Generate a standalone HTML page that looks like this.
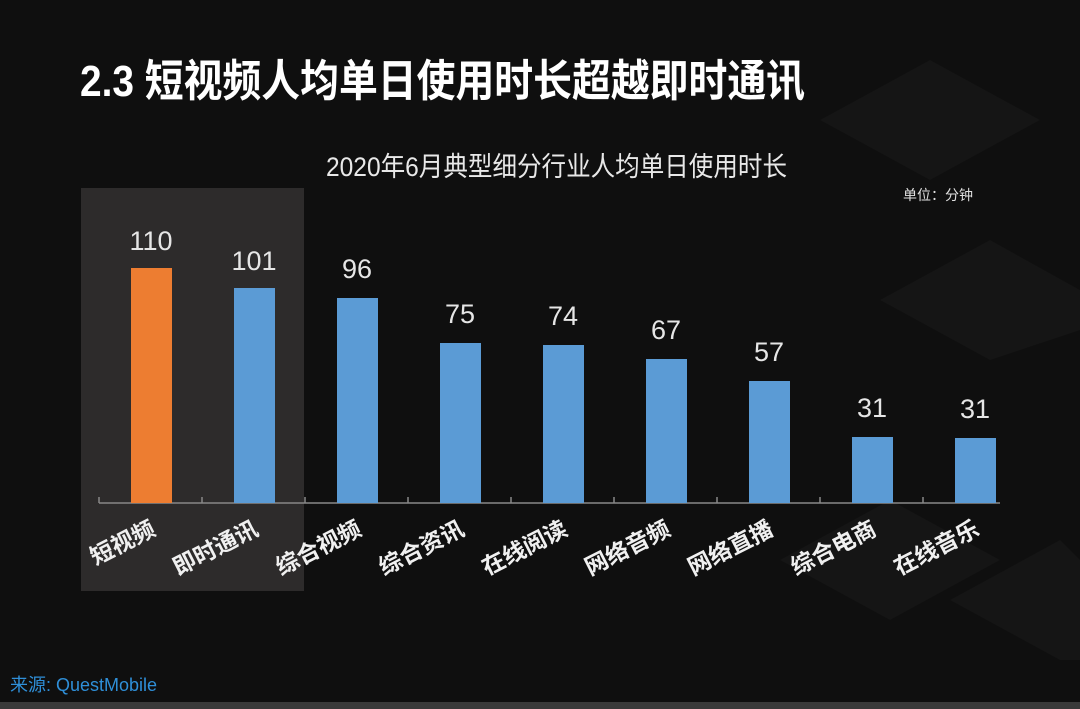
<!DOCTYPE html>
<html><head><meta charset="utf-8"><style>
html,body{margin:0;padding:0;background:#0e0e0e;}
svg{display:block;}
text{font-family:"Liberation Sans","Noto Sans CJK SC",sans-serif;}
</style></head><body>
<svg width="1080" height="709" viewBox="0 0 1080 709" xmlns="http://www.w3.org/2000/svg">
<rect width="1080" height="709" fill="#0f0f0f"/>
<g fill="#151515">
<polygon points="820,120 930,60 1040,120 930,180"/>
<polygon points="880,300 990,240 1080,290 1080,330 990,360"/>
<polygon points="780,560 890,500 1000,560 890,620"/>
<polygon points="950,600 1060,540 1080,560 1080,660 1060,660"/>
</g>
<rect x="0" y="702" width="1080" height="7" fill="#3a3a3a"/>
<text x="80" y="96" fill="#ffffff" font-size="44" font-weight="bold" textLength="725" lengthAdjust="spacingAndGlyphs">2.3 短视频人均单日使用时长超越即时通讯</text>
<text x="326" y="176" fill="#e8e8e8" font-size="27" textLength="461" lengthAdjust="spacingAndGlyphs">2020年6月典型细分行业人均单日使用时长</text>
<text x="903" y="200" fill="#e0e0e0" font-size="14">单位：分钟</text>
<rect x="81" y="188" width="223" height="403" fill="#2d2b2b"/>
<line x1="99" y1="503" x2="1000" y2="503" stroke="#888" stroke-width="1.5"/>
<g stroke="#888" stroke-width="1.5">
<line x1="99" y1="497" x2="99" y2="503"/><line x1="202" y1="497" x2="202" y2="503"/><line x1="305" y1="497" x2="305" y2="503"/><line x1="408" y1="497" x2="408" y2="503"/><line x1="511" y1="497" x2="511" y2="503"/><line x1="614" y1="497" x2="614" y2="503"/><line x1="717" y1="497" x2="717" y2="503"/><line x1="820" y1="497" x2="820" y2="503"/><line x1="923" y1="497" x2="923" y2="503"/>
</g>
<rect x="131" y="268" width="41" height="235" fill="#ed7d31"/>
<g fill="#5b9bd5">
<rect x="234" y="288" width="41" height="215"/>
<rect x="337" y="298" width="41" height="205"/>
<rect x="440" y="343" width="41" height="160"/>
<rect x="543" y="345" width="41" height="158"/>
<rect x="646" y="359" width="41" height="144"/>
<rect x="749" y="381" width="41" height="122"/>
<rect x="852" y="437" width="41" height="66"/>
<rect x="955" y="438" width="41" height="65"/>
</g>
<g fill="#e6e6e6" font-size="27" text-anchor="middle">
<text x="151" y="250">110</text><text x="254" y="270">101</text><text x="357" y="278">96</text><text x="460" y="323">75</text><text x="563" y="325">74</text><text x="666" y="339">67</text><text x="769" y="361">57</text><text x="872" y="417">31</text><text x="975" y="418">31</text>
</g>
<g fill="#f0f0f0" font-size="23" font-weight="bold" text-anchor="end">
<text transform="translate(157,534) rotate(-27)">短视频</text>
<text transform="translate(260,534) rotate(-27)">即时通讯</text>
<text transform="translate(363,534) rotate(-27)">综合视频</text>
<text transform="translate(466,534) rotate(-27)">综合资讯</text>
<text transform="translate(569,534) rotate(-27)">在线阅读</text>
<text transform="translate(672,534) rotate(-27)">网络音频</text>
<text transform="translate(775,534) rotate(-27)">网络直播</text>
<text transform="translate(878,534) rotate(-27)">综合电商</text>
<text transform="translate(981,534) rotate(-27)">在线音乐</text>
</g>
<text x="10" y="691" fill="#2f8fd8" font-size="18">来源: QuestMobile</text>
</svg>
</body></html>
